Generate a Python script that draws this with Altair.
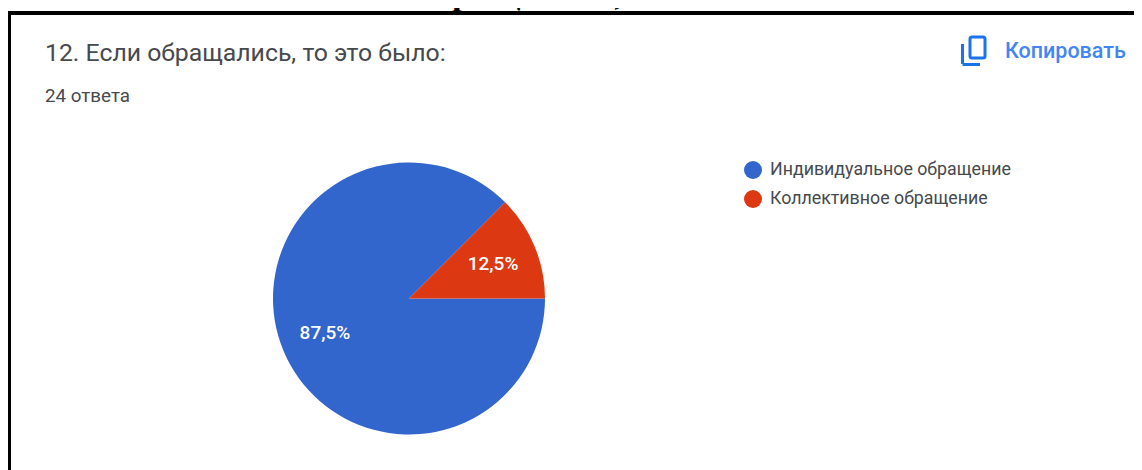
import math
import altair as alt
import pandas as pd

categories = ["Индивидуальное обращение", "Коллективное обращение"]
values = [87.5, 12.5]
labels = ["87,5%", "12,5%"]
colors = ["#3366cc", "#dc3912"]
heading = "Если обращались, то это было:"
question = "12. Если обращались, то это было:"
answers = "24 ответа"
copy_label = "Копировать"

df = pd.DataFrame({"cat": categories, "val": values, "lab": labels, "order": [0, 1]})
CX, CY, R = 401, 290.5, 136
BLUE = "#1a73e8"
GREY = "#46494d"


def text(s, x, y, size, color, font="Roboto", weight="normal", align="left"):
    return alt.Chart(pd.DataFrame({"t": [s]})).mark_text(
        font=font, fontSize=size, color=color, fontWeight=weight, align=align, baseline="alphabetic"
    ).encode(x=alt.value(x), y=alt.value(y), text="t:N")


def rule(x, y, x2=None, y2=None, w=3, color="black"):
    enc = dict(x=alt.value(x), y=alt.value(y))
    if x2 is not None:
        enc["x2"] = alt.value(x2)
    if y2 is not None:
        enc["y2"] = alt.value(y2)
    return alt.Chart(pd.DataFrame({"a": [0]})).mark_rule(stroke=color, strokeWidth=w).encode(**enc)


theta = alt.Theta("val:Q", stack=True, scale=alt.Scale(domain=[0, 100], range=[math.pi / 2, math.pi * 2.5]))
color = alt.Color(
    "cat:N",
    sort=categories,
    scale=alt.Scale(domain=categories, range=colors),
    legend=alt.Legend(
        title=None, orient="none", legendX=736, legendY=153, symbolType="circle", symbolSize=324,
        symbolStrokeWidth=0, labelFont="Roboto", labelFontSize=17.8, labelColor=GREY,
        rowPadding=11, labelOffset=8, labelLimit=340,
    ),
)
base = alt.Chart(df)
pie = base.mark_arc(outerRadius=R, stroke=None).encode(
    theta=theta, color=color, order=alt.Order("order:Q"), x=alt.value(CX), y=alt.value(CY)
)
pct = base.mark_text(radius=91, font="Roboto", fontSize=19, fontWeight=500, color="white").encode(
    theta=theta, text="lab:N", order=alt.Order("order:Q"), x=alt.value(CX), y=alt.value(CY)
)
icon = alt.Chart(pd.DataFrame({"a": [0]})).mark_rect(
    fill=None, stroke=BLUE, strokeWidth=3, cornerRadius=2
).encode(x=alt.value(962), x2=alt.value(977), y=alt.value(29), y2=alt.value(50))

chart = alt.layer(
    text(heading, 318, -4, 36, "black", "Liberation Serif", "bold"),
    rule(1.5, 5, y2=470),
    rule(0, 5, x2=1142, w=4),
    pie, pct,
    text(question, 37, 53, 24.8, GREY),
    text(answers, 37, 94, 18.8, GREY),
    text(copy_label, 997, 50, 21.5, "#4285f4", weight=500),
    icon,
    rule(954.5, 36, y2=56, color=BLUE),
    rule(954.5, 56.5, x2=972, color=BLUE),
).properties(
    width=1126, height=462, padding=0, autosize=alt.AutoSizeParams(type="none"),
).configure_view(stroke=None)

chart.save("out.html", embed_options={"renderer": "svg", "actions": False})
